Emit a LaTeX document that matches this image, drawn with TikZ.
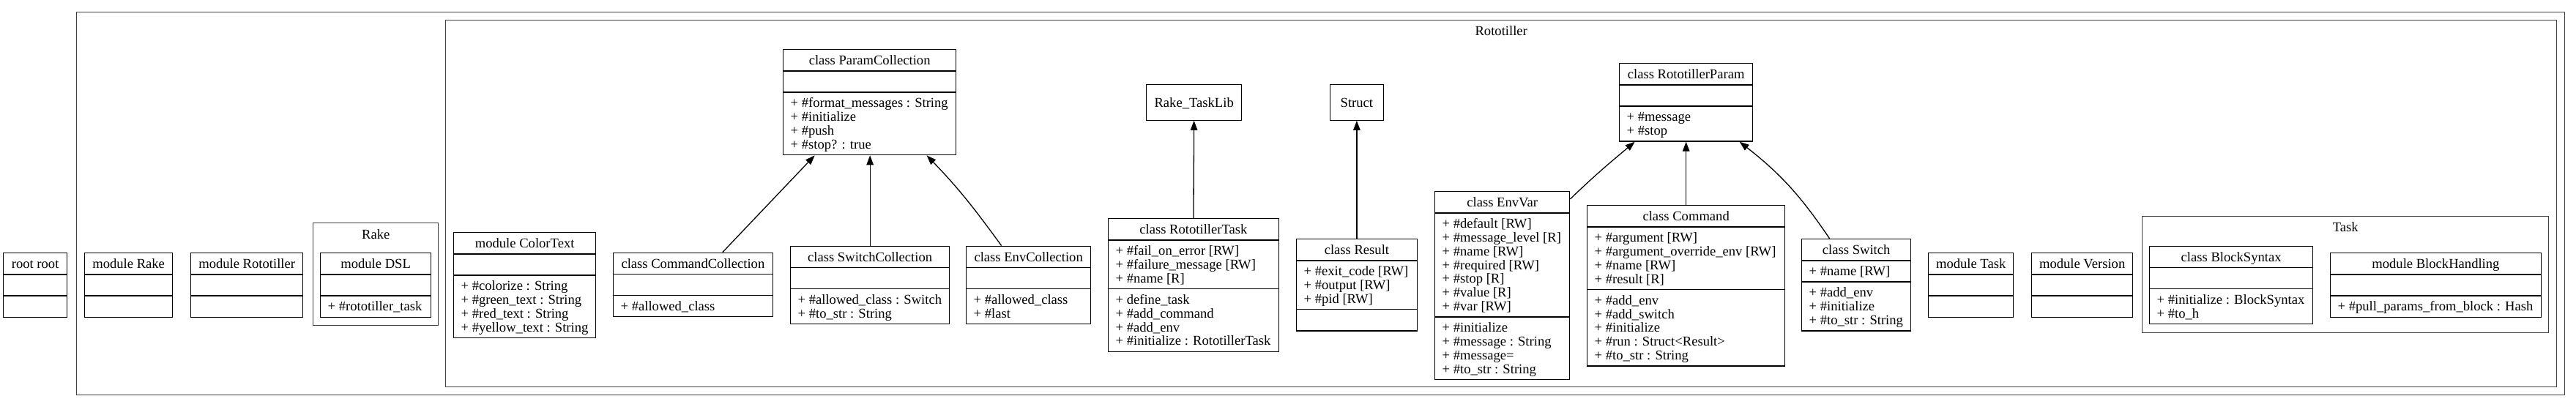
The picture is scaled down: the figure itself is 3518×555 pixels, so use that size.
\documentclass[tikz,border=0pt]{standalone}
\usepackage{fontspec}
\setmainfont{Liberation Serif}
\usepackage{tikz}
\usetikzlibrary{arrows.meta,positioning,shapes.multipart}
\definecolor{cline}{HTML}{000000}
\definecolor{kline}{HTML}{404040}
\newcommand{\umlfont}{\fontsize{18.6}{18.8}\selectfont}
% first line of a compartment, and depth of its last line
\newcommand{\ustrut}{\rule[-4.3pt]{0pt}{21.1pt}}
\newcommand{\dstrut}{\rule[-4.3pt]{0pt}{4.3pt}}
\tikzset{
  % record of a class or module: name, attributes, methods
  umlclass/.style = {rectangle split, rectangle split parts=3, draw=cline, line width=1.3pt,
                     rectangle split part align={center,left,left}, align=left,
                     inner xsep=10pt, inner ysep=3.4pt, font=\umlfont,
                     minimum width=#1, anchor=north west},
  plainbox/.style = {rectangle, draw=cline, line width=1.3pt, font=\umlfont, inner sep=0pt,
                     minimum width=#1, minimum height=48.5pt, anchor=north west},
  cluster/.style  = {rectangle, draw=kline, line width=1.4pt, inner sep=0pt, anchor=north west},
  clabel/.style   = {font=\umlfont, anchor=base, inner sep=0pt},
  inh/.style      = {-{Triangle[length=13pt,width=9.5pt]}, line width=1.3pt, cline},
}

\begin{document}
\begin{tikzpicture}[x=1pt,y=1pt]
\useasboundingbox (0,0) rectangle (3518,-555);
% clusters
\node[cluster, minimum width=3398pt, minimum height=523pt] (outer) at (104,-16) {};
\node[cluster, minimum width=2883pt, minimum height=501.5pt] (rototiller) at (608,-26.5) {};
\node[clabel] (rototillerlbl) at ([yshift=-22pt]rototiller.north) {Rototiller};
\node[cluster, minimum width=171pt, minimum height=140pt] (rakecl) at (427,-304) {};
\node[clabel] (rakelbl) at ([yshift=-22pt]rakecl.north) {Rake};
\node[cluster, minimum width=555pt, minimum height=159.5pt] (taskcl) at (2925,-294.5) {};
\node[clabel] (tasklbl) at ([yshift=-22pt]taskcl.north) {Task};
% outside
\node[umlclass=87pt] (root) at (4,-345)
  {\ustrut root root\nodepart{two}\ustrut\nodepart{three}\ustrut};
% Rake, Rototiller
\node[umlclass=120pt] (mrake) at (115,-345)
  {\ustrut module Rake\nodepart{two}\ustrut\nodepart{three}\ustrut};
\node[umlclass=153pt] (mroto) at (260,-345)
  {\ustrut module Rototiller\nodepart{two}\ustrut\nodepart{three}\ustrut};
\node[umlclass=151pt] (dsl) at (437,-345)
  {\ustrut module DSL\nodepart{two}\ustrut\nodepart{three}\ustrut + \#rototiller\_task};
% Rototiller::*
\node[umlclass=194pt] (colortext) at (619,-317)
  {\ustrut module ColorText\nodepart{two}\ustrut
   \nodepart{three}\ustrut + \#colorize : String\\+ \#green\_text : String\\
   + \#red\_text : String\\+ \#yellow\_text : String\dstrut};
\node[umlclass=217.5pt] (cmdcoll) at (837,-344.5)
  {\ustrut class CommandCollection\nodepart{two}\ustrut\nodepart{three}\ustrut + \#allowed\_class};
\node[umlclass=236pt] (paramcoll) at (1069,-67)
  {\ustrut class ParamCollection\nodepart{two}\ustrut
   \nodepart{three}\ustrut + \#format\_messages : String\\+ \#initialize\\
   + \#push\\+ \#stop? : true\dstrut};
\node[umlclass=217pt] (swcoll) at (1079,-335.6)
  {\ustrut class SwitchCollection\nodepart{two}\ustrut
   \nodepart{three}\ustrut + \#allowed\_class : Switch\\+ \#to\_str : String\dstrut};
\node[umlclass=170pt] (envcoll) at (1319,-335.6)
  {\ustrut class EnvCollection\nodepart{two}\ustrut
   \nodepart{three}\ustrut + \#allowed\_class\\+ \#last\dstrut};
\node[plainbox=130pt] (tasklib) at (1565,-115) {\ustrut Rake\_TaskLib};
\node[umlclass=232.5pt] (rtask) at (1513,-298)
  {\ustrut class RototillerTask
   \nodepart{two}\ustrut + \#fail\_on\_error [RW]\\+ \#failure\_message [RW]\\+ \#name [R]\dstrut
   \nodepart{three}\ustrut + define\_task\\+ \#add\_command\\+ \#add\_env\\
   + \#initialize : RototillerTask\dstrut};
\node[plainbox=72.5pt] (struct) at (1816,-115) {\ustrut Struct};
\node[umlclass=164.5pt] (result) at (1770,-326)
  {\ustrut class Result
   \nodepart{two}\ustrut + \#exit\_code [RW]\\+ \#output [RW]\\+ \#pid [RW]\dstrut
   \nodepart{three}\ustrut};
\node[umlclass=182pt] (rparam) at (2211,-86)
  {\ustrut class RototillerParam\nodepart{two}\ustrut
   \nodepart{three}\ustrut + \#message\\+ \#stop\dstrut};
\node[umlclass=184pt] (envvar) at (1959,-261)
  {\ustrut class EnvVar
   \nodepart{two}\ustrut + \#default [RW]\\+ \#message\_level [R]\\+ \#name [RW]\\
   + \#required [RW]\\+ \#stop [R]\\+ \#value [R]\\+ \#var [RW]\dstrut
   \nodepart{three}\ustrut + \#initialize\\+ \#message : String\\+ \#message=\\
   + \#to\_str : String\dstrut};
\node[umlclass=270pt] (command) at (2167,-280)
  {\ustrut class Command
   \nodepart{two}\ustrut + \#argument [RW]\\+ \#argument\_override\_env [RW]\\
   + \#name [RW]\\+ \#result [R]\dstrut
   \nodepart{three}\ustrut + \#add\_env\\+ \#add\_switch\\+ \#initialize\\
   + \#run : Struct<Result>\\+ \#to\_str : String\dstrut};
\node[umlclass=149pt] (switch) at (2460,-326)
  {\ustrut class Switch
   \nodepart{two}\ustrut + \#name [RW]
   \nodepart{three}\ustrut + \#add\_env\\+ \#initialize\\+ \#to\_str : String\dstrut};
\node[umlclass=116pt] (mtask) at (2633,-345)
  {\ustrut module Task\nodepart{two}\ustrut\nodepart{three}\ustrut};
\node[umlclass=138pt] (mversion) at (2774,-345)
  {\ustrut module Version\nodepart{two}\ustrut\nodepart{three}\ustrut};
% Task
\node[umlclass=223pt] (blocksyntax) at (2935,-335.6)
  {\ustrut class BlockSyntax\nodepart{two}\ustrut
   \nodepart{three}\ustrut + \#initialize : BlockSyntax\\+ \#to\_h\dstrut};
\node[umlclass=287.5pt] (blockhandling) at (3182,-345)
  {\ustrut module BlockHandling\nodepart{two}\ustrut
   \nodepart{three}\ustrut + \#pull\_params\_from\_block : Hash};
% inheritance
\draw[inh] ([xshift=40.5pt]cmdcoll.north) -- ([xshift=-75pt]paramcoll.south);
\draw[inh] (swcoll.north) -- (swcoll.north |- paramcoll.south);
\draw[inh] ([xshift=-37pt]envcoll.north) to[out=126,in=-46] ([xshift=78pt]paramcoll.south);
\draw[inh] (rtask.north) -- (tasklib.south);
\draw[inh] (result.north) -- (struct.south);
\draw[inh] ([yshift=-11pt]envvar.north east) to[out=44,in=-140] ([xshift=-70pt]rparam.south);
\draw[inh] (command.north) -- (rparam.south);
\draw[inh] ([xshift=-36.5pt]switch.north) to[out=124,in=-38] ([xshift=73pt]rparam.south);
\end{tikzpicture}
\end{document}
